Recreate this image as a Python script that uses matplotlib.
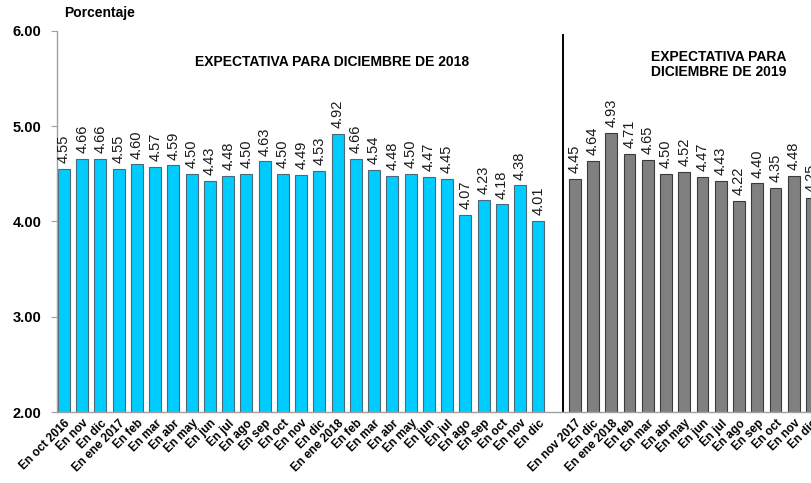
import numpy as np
import matplotlib
matplotlib.use("Agg")
import matplotlib.pyplot as plt

plt.rcParams['font.family'] = ['Liberation Sans', 'DejaVu Sans']

# expectativa para diciembre de 2018
labels_2018 = ["En oct 2016", "En nov", "En dic", "En ene 2017", "En feb", "En mar",
               "En abr", "En may", "En jun", "En jul", "En ago", "En sep", "En oct",
               "En nov", "En dic", "En ene 2018", "En feb", "En mar", "En abr",
               "En may", "En jun", "En jul", "En ago", "En sep", "En oct", "En nov",
               "En dic"]
values_2018 = [4.55, 4.66, 4.66, 4.55, 4.60, 4.57, 4.59, 4.50, 4.43, 4.48, 4.50, 4.63,
               4.50, 4.49, 4.53, 4.92, 4.66, 4.54, 4.48, 4.50, 4.47, 4.45, 4.07, 4.23,
               4.18, 4.38, 4.01]

# expectativa para diciembre de 2019
labels_2019 = ["En nov 2017", "En dic", "En ene 2018", "En feb", "En mar", "En abr",
               "En may", "En jun", "En jul", "En ago", "En sep", "En oct", "En nov",
               "En dic"]
values_2019 = [4.45, 4.64, 4.93, 4.71, 4.65, 4.50, 4.52, 4.47, 4.43, 4.22, 4.40, 4.35,
               4.48, 4.25]


def main():
    fig = plt.figure(figsize=(8.12, 4.83), dpi=100)
    ax = fig.add_axes([57 / 812, (483 - 412) / 483, 1 - 57 / 812, 381 / 483])

    x1 = np.arange(len(values_2018))
    x2 = np.arange(len(values_2019)) + len(values_2018) + 1
    w = 0.65

    b1 = ax.bar(x1, values_2018, w, color='#00CCFF', edgecolor='#4a6a78', linewidth=0.8)
    b2 = ax.bar(x2, values_2019, w, color='#808080', edgecolor='#3a3a3a', linewidth=0.8)

    for bars in (b1, b2):
        for r in bars:
            h = r.get_height()
            ax.text(r.get_x() + r.get_width() / 2, h + 0.06, "%.2f" % h,
                    rotation=90, ha='center', va='bottom', fontsize=10.5,
                    color='#1a1a1a', clip_on=False)

    ax.axvline(len(values_2018) + 0.36, ymin=0, ymax=0.99, color='black', linewidth=1.4)

    ax.set_ylim(2, 6)
    ax.set_xlim(-0.38, 40.76)
    ax.set_yticks([2, 3, 4, 5, 6])
    ax.set_yticklabels(["%.2f" % v for v in [2, 3, 4, 5, 6]], fontsize=10.5, fontweight='bold')
    ax.set_xticks(np.concatenate([x1, x2]))
    ax.set_xticklabels(labels_2018 + labels_2019, rotation=45, ha='right',
                       rotation_mode='anchor', fontsize=8.5, fontweight='bold')
    ax.tick_params(axis='x', length=0, pad=4)
    ax.tick_params(axis='y', length=4, color='#a0a0a0', pad=7)

    for s in ['top', 'right']:
        ax.spines[s].set_visible(False)
    for s in ['left', 'bottom']:
        ax.spines[s].set_color('#a0a0a0')
        ax.spines[s].set_linewidth(1.0)

    fig.text(64 / 812, 1 - 13 / 483, "Porcentaje", fontsize=10, fontweight='bold',
             ha='left', va='center')
    ax.text(14.7, 5.67, "EXPECTATIVA PARA DICIEMBRE DE 2018", fontsize=10,
            fontweight='bold', ha='center', va='center')
    ax.text(35.86, 5.65, "EXPECTATIVA PARA\nDICIEMBRE DE 2019", fontsize=10,
            fontweight='bold', ha='center', va='center', multialignment='center',
            linespacing=1.1)

    fig.savefig("out.png", dpi=100)


if __name__ == "__main__":
    main()
